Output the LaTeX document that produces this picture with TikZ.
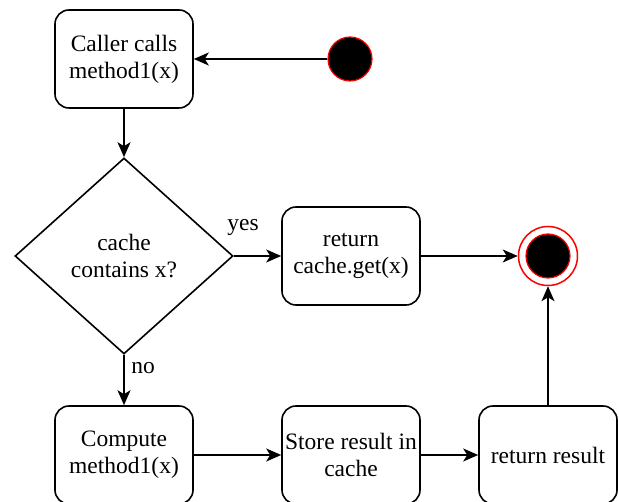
\documentclass[tikz,border=0pt]{standalone}
\usepackage{fontspec}
\setmainfont{Liberation Serif}
\usetikzlibrary{shapes.geometric,arrows.meta}

\tikzset{
	stepbox/.style={draw, line width=1.6pt, rounded corners=14pt, minimum width=138pt, minimum height=98pt, inner sep=0pt, align=center, font=\fontsize{23.5}{27}\selectfont},
	testbox/.style={draw, diamond, line width=1.6pt, minimum width=218pt, minimum height=196pt, inner sep=0pt, align=center, font=\fontsize{23.5}{27}\selectfont},
	startdot/.style={circle, draw=red, fill=black, line width=1.2pt, minimum size=44pt, inner sep=0pt},
	enddot/.style={circle, draw=red, fill=white, line width=1.5pt, minimum size=59pt, inner sep=0pt},
	flow/.style={line width=1.6pt, -{Stealth[length=15pt,width=13pt,inset=4pt]}},
	lbl/.style={font=\fontsize{23.5}{27}\selectfont, inner sep=0pt}
}

\begin{document}
\begin{tikzpicture}[x=1pt,y=-1pt]
\useasboundingbox (0,0) rectangle (619,502);

\pgfmathsetmacro{\colA}{124}
\pgfmathsetmacro{\colB}{351}
\pgfmathsetmacro{\colC}{548}
\pgfmathsetmacro{\rowA}{59}
\pgfmathsetmacro{\rowB}{256}
\pgfmathsetmacro{\rowC}{455}

\node[stepbox] (caller) at (\colA,\rowA) {Caller calls\\method1(x)};
\node[startdot] (start) at (350,\rowA) {};
\node[testbox] (check) at (\colA,\rowB) {cache\\contains x?};
\node[stepbox] (hit) at (\colB,\rowB) {return\\cache.get(x)};
\node[enddot] (stop) at (\colC,\rowB) {};
\node[startdot] (stopin) at (\colC,\rowB) {};
\node[stepbox] (compute) at (\colA,\rowC) {Compute\\method1(x)};
\node[stepbox] (store) at (\colB,\rowC) {Store result in\\cache};
\node[stepbox] (result) at (\colC,\rowC) {return result};

\draw[flow] (start) -- (caller);
\draw[flow] (caller) -- (check);
\draw[flow] (check.east) -- (hit);
\draw[flow] (hit) -- (stop);
\draw[flow] (check.south) -- (compute);
\draw[flow] (compute) -- (store);
\draw[flow] (store) -- (result);
\draw[flow] (result.north) -- (stop.south);

% branch labels
\node[lbl] (yes) at (243,228) {yes};
\node[lbl] (no) at (143,368) {no};
\end{tikzpicture}
\end{document}
